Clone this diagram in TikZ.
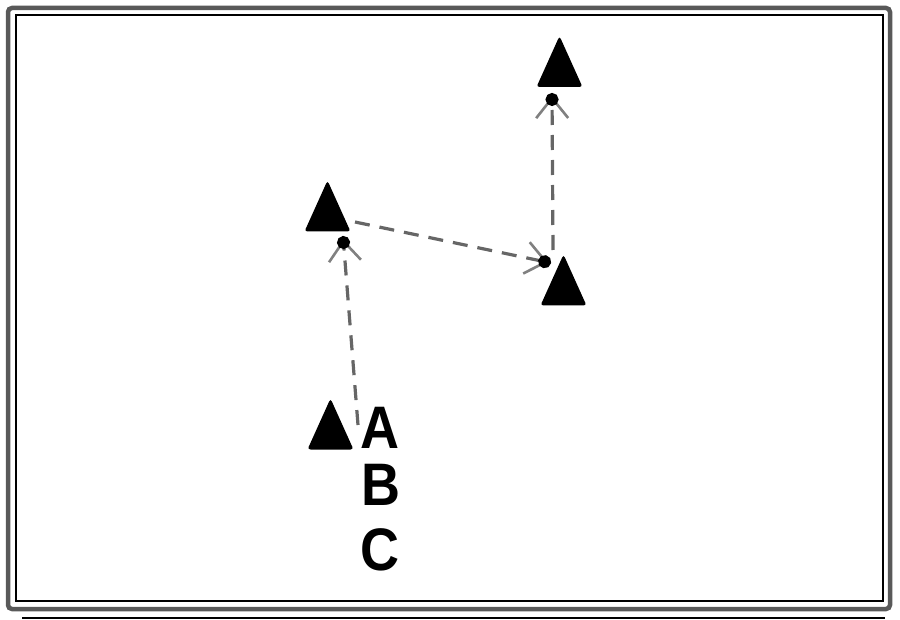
\documentclass[tikz,border=0pt]{standalone}
\usepackage{fontspec}
\setmainfont{Liberation Sans}
\usetikzlibrary{arrows.meta,calc}
\tikzset{
  tri/.style={minimum width=48pt,minimum height=53pt,inner sep=0pt,outer sep=0pt,
    path picture={\fill[black,rounded corners=3pt]
      ([xshift=1pt,yshift=1pt]path picture bounding box.south west) --
      ([xshift=-1pt,yshift=1pt]path picture bounding box.south east) --
      ([yshift=-1pt]path picture bounding box.north) -- cycle;}},
  flow/.style={draw=black!60,line width=3.2pt,dash pattern=on 15pt off 10pt,
    -{Straight Barb[length=20pt,width=32pt,line width=2.6pt,sep=-10pt,color=black!50] Circle[length=13pt,color=black]}},
  lbl/.style={font=\fontsize{60}{60}\bfseries,inner sep=0pt}
}
\begin{document}
\begin{tikzpicture}[x=1pt,y=-1pt]
\useasboundingbox (0,0) rectangle (900,620);
% frame
\draw[black!65,line width=4.5pt,rounded corners=4pt] (8,8) rectangle (890,609);
\draw[black,line width=1.3pt] (16,15) rectangle (883,601);
\draw[black,line width=1.5pt] (22,618) -- (885,618);
% triangles
\node[tri] (t1) at (327.5,206) {};
\node[tri] (t2) at (563.5,280) {};
\node[tri] (t3) at (559.5,61.5) {};
\node[tri] (t4) at (330.5,424) {};
% labels
\node[lbl] (la) at (380,428) {\scalebox{0.9}[1]{A}};
\node[lbl] (lb) at (381,485) {\scalebox{0.9}[1]{B}};
\node[lbl] (lc) at (380,550) {\scalebox{0.9}[1]{C}};
% connectors
\draw[flow] ($(t4)+(27.5,1)$) -- ($(t1)+(15.5,30)$);
\draw[flow] ($(t1)+(27.5,16)$) -- ($(t2)+(-12.5,-17)$);
\draw[flow] ($(t2)+(-10.5,-30)$) -- ($(t3)+(-7.5,31.5)$);
\end{tikzpicture}
\end{document}
